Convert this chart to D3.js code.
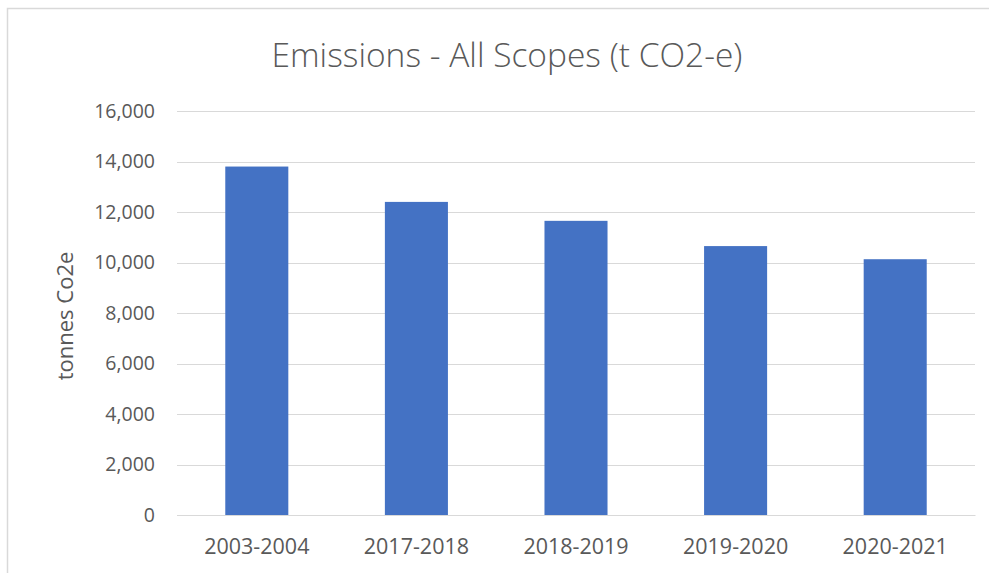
<!DOCTYPE html>
<html>
<head>
<meta charset="utf-8">
<script src="https://cdn.jsdelivr.net/npm/d3@7"></script>
<style>
  html, body { margin: 0; padding: 0; background: #fff; }
  svg { display: block; }
  text { font-family: "Open Sans", "Noto Sans", sans-serif; fill: #595959; }
</style>
</head>
<body>
<svg id="chart" width="989" height="573"></svg>
<script>
const categories = ["2003-2004", "2017-2018", "2018-2019", "2019-2020", "2020-2021"];
const values = [13800, 12400, 11650, 10650, 10130];
const yTicks = [0, 2000, 4000, 6000, 8000, 10000, 12000, 14000, 16000];
const titleText = "Emissions - All Scopes (t CO2-e)";
const yTitleText = "tonnes Co2e";

const W = 989, H = 573;
const margin = { left: 177, right: 14, top: 111, bottom: 58 };
const svg = d3.select("#chart");

// chart frame (top + left edges visible)
svg.append("rect").attr("x", 7.5).attr("y", 8.5).attr("width", W + 10).attr("height", H + 10)
  .attr("fill", "#fff").attr("stroke", "#d9d9d9").attr("stroke-width", 1.5);

const x = d3.scaleBand().domain(categories)
  .range([margin.left, W - margin.right])
  .paddingInner(0.605).paddingOuter(0.3025);
const y = d3.scaleLinear().domain([0, 16000]).range([H - margin.bottom, margin.top]);

// gridlines
svg.append("g").selectAll("line").data(yTicks).join("line")
  .attr("x1", margin.left).attr("x2", W - margin.right)
  .attr("y1", d => Math.round(y(d)) + 0.5).attr("y2", d => Math.round(y(d)) + 0.5)
  .attr("stroke", "#d9d9d9").attr("stroke-width", 1.2);

// bars
svg.append("g").selectAll("rect").data(values).join("rect")
  .attr("x", (d, i) => x(categories[i]))
  .attr("width", x.bandwidth())
  .attr("y", d => y(d))
  .attr("height", d => y(0) - y(d))
  .attr("fill", "#4472C4");

// y axis
const yAxis = d3.axisLeft(y).tickValues(yTicks).tickFormat(d3.format(",")).tickSize(0).tickPadding(22);
const gy = svg.append("g").attr("transform", `translate(${margin.left},0)`).call(yAxis);
gy.select(".domain").remove();
gy.selectAll("text").style("font-size", "19.5px").attr("fill", "#595959");

// x axis
const xAxis = d3.axisBottom(x).tickSize(0).tickPadding(24);
const gx = svg.append("g").attr("transform", `translate(0,${y(0)})`).call(xAxis);
gx.select(".domain").attr("stroke", "#d9d9d9").attr("stroke-width", 1.2);
gx.selectAll("text").style("font-size", "21.5px").attr("fill", "#595959");

// title
svg.append("text").attr("x", 507).attr("y", 67).attr("text-anchor", "middle")
  .style("font-size", "33.5px").style("font-weight", 300).text(titleText);

// y title
svg.append("text").attr("transform", "translate(73,316) rotate(-90)")
  .attr("text-anchor", "middle").style("font-size", "22px").text(yTitleText);
</script>
</body>
</html>
